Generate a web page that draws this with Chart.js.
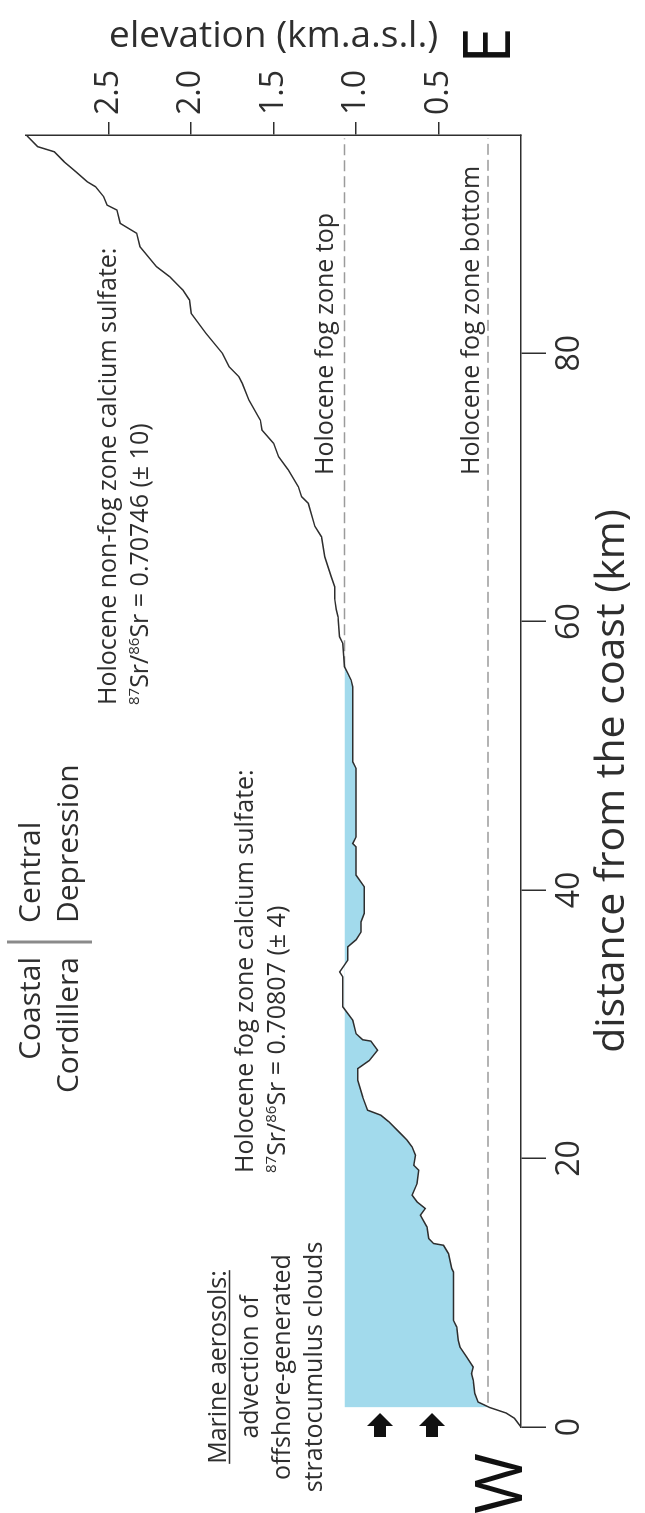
<!DOCTYPE html>
<html>
<head>
<meta charset="utf-8">
<title>Coastal elevation profile</title>
<script src="https://cdn.jsdelivr.net/npm/chart.js@4.4.1/dist/chart.umd.min.js"></script>
<style>
  html, body { margin: 0; padding: 0; background: #fff; overflow: hidden; }
  #page { position: relative; width: 645px; height: 1513px; overflow: hidden; }
  /* chart is laid out west->east left to right, then turned a quarter to the left */
  #turn { position: absolute; left: 0; top: 0; width: 1513px; height: 645px;
          transform-origin: 0 0; transform: translate(0, 1513px) rotate(-90deg); }
</style>
</head>
<body>
<div id="page"><div id="turn"><canvas id="profileChart" width="1513" height="645"></canvas></div></div>
<script>
// Profile: distance from the coast (km) and elevation (km a.s.l.)
const distanceKm = [0, 0.65, 1.04, 1.45, 1.86, 2.51, 3.48, 3.98, 4.47, 5.22,
  5.96, 6.46, 7.45, 7.95, 11.55, 11.8, 12.92, 13.54, 13.67, 14.04,
  14.9, 15.78, 16.28, 16.77, 17.27, 18.14, 19.13, 19.5, 20.25, 20.86,
  21.36, 21.86, 22.73, 23.23, 23.6, 24.59, 25.83, 26.7, 27.3, 28.07,
  28.75, 28.85, 29.3, 30.3, 31.3, 33.53, 33.9, 34.78, 35.77, 36.3,
  36.88, 37.63, 38.26, 40.24, 41.11, 43.22, 43.47, 43.96, 49.06, 49.55,
  55.14, 55.64, 56.14, 56.63, 58.37, 58.87, 60.36, 60.9, 61.73, 62.59,
  63.34, 64.08, 64.83, 66.32, 67.1, 68.81, 69.3, 70.04, 71.29, 72.28,
  73.28, 74.27, 75.0, 76.51, 77.75, 78.24, 78.99, 79.98, 81.47, 82.96,
  83.96, 84.7, 84.95, 85.69, 86.44, 87.93, 88.93, 89.67, 90.66, 91.03,
  91.65, 92.4, 92.77, 93.52, 94.26, 95.0, 95.38, 96.25]
const elevationKm = [0, 0.04, 0.09, 0.19, 0.26, 0.28, 0.29, 0.30, 0.29, 0.33,
  0.37, 0.38, 0.39, 0.41, 0.41, 0.42, 0.44, 0.47, 0.53, 0.56,
  0.57, 0.61, 0.58, 0.63, 0.66, 0.63, 0.62, 0.65, 0.64, 0.66,
  0.69, 0.73, 0.80, 0.85, 0.93, 0.96, 0.99, 0.99, 0.92, 0.87,
  0.91, 0.96, 1.00, 1.02, 1.08, 1.08, 1.10, 1.05, 1.05, 1.00,
  0.97, 0.97, 0.95, 0.95, 1.00, 1.00, 1.02, 1.00, 1.00, 1.02,
  1.02, 1.03, 1.05, 1.07, 1.08, 1.10, 1.11, 1.12, 1.13, 1.13,
  1.15, 1.17, 1.19, 1.21, 1.25, 1.29, 1.33, 1.35, 1.41, 1.47,
  1.50, 1.57, 1.58, 1.65, 1.69, 1.71, 1.77, 1.81, 1.91, 2.00,
  2.01, 2.05, 2.07, 2.13, 2.21, 2.31, 2.33, 2.43, 2.45, 2.51,
  2.53, 2.58, 2.63, 2.70, 2.77, 2.83, 2.93, 3.00]

// Holocene fog zone limits (km a.s.l.) and the stretches they are drawn over (km)
const fogZoneTopKm = 1.07
const fogZoneBottomKm = 0.2
const fogFillKm = [1.45, 57]
const fogTopLineKm = [56.6, 96]
const fogBottomLineKm = [1.8, 96]

// axes
const distanceTicks = [0, 20, 40, 60, 80]
const elevationTicks = [0.5, 1.0, 1.5, 2.0, 2.5]
const distanceMaxKm = 96.25
const elevationMaxKm = 3.0

const ink = '#2e2e2e'
const fogBlue = '#a2daec'
const dashGrey = '#9b9b9b'
const family = "'Open Sans', 'DejaVu Sans', sans-serif"

const profilePoints = distanceKm.map((d, i) => ({ x: d, y: elevationKm[i] }))
const fogPoints = profilePoints.filter(p => p.x >= fogFillKm[0] && p.x <= fogFillKm[1])
const levelLine = (range, level) => range.map(d => ({ x: d, y: level }))

// write a line where parts starting with ^ are superscripts
function writeRich(c, parts, x, y, size) {
  let cx = x
  parts.forEach(p => {
    const sup = p.startsWith('^')
    const t = sup ? p.slice(1) : p
    c.font = (sup ? Math.round(size * 0.6) : size) + 'px ' + family
    c.fillText(t, cx, sup ? y - size * 0.38 : y)
    cx += c.measureText(t).width
  })
}

const notes = {
  id: 'notes',
  afterDraw(chart) {
    const c = chart.ctx
    c.save()
    c.fillStyle = ink
    c.textBaseline = 'alphabetic'
    c.textAlign = 'left'

    // regions
    c.font = '30px ' + family
    c.textAlign = 'right'
    c.fillText('Coastal', 556, 40)
    c.fillText('Cordillera', 556, 78)
    c.textAlign = 'left'
    c.fillText('Central', 590, 40)
    c.fillText('Depression', 590, 78)
    c.strokeStyle = '#8a8a8a'
    c.lineWidth = 3
    c.beginPath()
    c.moveTo(571, 7)
    c.lineTo(571, 92)
    c.stroke()

    // isotope notes
    writeRich(c, ['Holocene non-fog zone calcium sulfate:'], 808, 116, 25)
    writeRich(c, ['^87', 'Sr/', '^86', 'Sr = 0.70746 (\u00b1 10)'], 808, 148, 25)
    writeRich(c, ['Holocene fog zone calcium sulfate:'], 340, 253, 25)
    writeRich(c, ['^87', 'Sr/', '^86', 'Sr = 0.70807 (\u00b1 4)'], 340, 285, 25)
    writeRich(c, ['Holocene fog zone top'], 1038, 333, 25)
    writeRich(c, ['Holocene fog zone bottom'], 1038, 479, 25)

    // marine aerosols block
    c.font = '25px ' + family
    c.textAlign = 'center'
    const mx = 146
    c.fillText('Marine aerosols:', mx, 226)
    c.fillText('advection of', mx, 258)
    c.fillText('offshore-generated', mx, 290)
    c.fillText('stratocumulus clouds', mx, 322)
    const uw = c.measureText('Marine aerosols:').width
    c.strokeStyle = ink
    c.lineWidth = 1.3
    c.beginPath()
    c.moveTo(mx - uw / 2, 229.5)
    c.lineTo(mx + uw / 2, 229.5)
    c.stroke()

    // arrows pointing inland
    c.fillStyle = '#111'
    ;[380, 432].forEach(cy => {
      c.beginPath()
      c.moveTo(76, cy - 6)
      c.lineTo(87, cy - 6)
      c.lineTo(87, cy - 13)
      c.lineTo(100, cy)
      c.lineTo(87, cy + 13)
      c.lineTo(87, cy + 6)
      c.lineTo(76, cy + 6)
      c.closePath()
      c.fill()
    })

    // compass letters
    c.textAlign = 'left'
    c.font = '66px ' + family
    c.fillText('W', -1, 522)
    c.fillText('E', 1449, 510)
    c.restore()
  }
}

const ctx = document.getElementById('profileChart').getContext('2d')
new Chart(ctx, {
  type: 'line',
  data: {
    datasets: [
      {
        label: 'elevation profile',
        data: profilePoints,
        borderColor: ink,
        borderWidth: 1.5,
        pointRadius: 0,
        tension: 0,
        fill: false,
        order: 0,
      },
      {
        label: 'fog zone',
        data: fogPoints,
        borderWidth: 0,
        borderColor: 'rgba(0,0,0,0)',
        backgroundColor: fogBlue,
        pointRadius: 0,
        fill: { target: { value: fogZoneTopKm }, above: 'rgba(0,0,0,0)', below: fogBlue },
        order: 3,
      },
      {
        label: 'fog zone top',
        data: levelLine(fogTopLineKm, fogZoneTopKm),
        borderColor: dashGrey,
        borderDash: [11, 5],
        borderWidth: 1.5,
        pointRadius: 0,
        fill: false,
        order: 2,
      },
      {
        label: 'fog zone bottom',
        data: levelLine(fogBottomLineKm, fogZoneBottomKm),
        borderColor: dashGrey,
        borderDash: [11, 5],
        borderWidth: 1.5,
        pointRadius: 0,
        fill: false,
        order: 2,
      },
    ],
  },
  options: {
    responsive: false,
    animation: false,
    events: [],
    layout: { padding: { left: 86, top: 21, right: 0, bottom: 0 } },
    plugins: { legend: { display: false }, tooltip: { enabled: false } },
    scales: {
      x: {
        type: 'linear',
        position: 'bottom',
        min: 0,
        max: distanceMaxKm,
        afterBuildTicks: (s) => { s.ticks = distanceTicks.map(v => ({ value: v })) },
        afterFit: (s) => { s.height = 124 },
        grid: { display: true, drawOnChartArea: false, drawTicks: true, tickLength: 25, tickColor: ink, tickWidth: 1.5, lineWidth: 1.5 },
        border: { display: true, color: ink, width: 1.5 },
        ticks: { color: ink, font: { family, size: 32 }, padding: 5, maxRotation: 0, autoSkip: false, callback: (v) => String(v) },
        title: { display: true, text: 'distance from the coast (km)', color: ink, font: { family, size: 41 }, padding: { top: 0, bottom: 8 } },
      },
      y: {
        type: 'linear',
        position: 'right',
        min: 0,
        max: elevationMaxKm,
        afterBuildTicks: (s) => { s.ticks = elevationTicks.map(v => ({ value: v })) },
        afterFit: (s) => { s.width = 135 },
        grid: { display: true, drawOnChartArea: false, drawTicks: true, tickLength: 13, tickColor: ink, tickWidth: 1.5, lineWidth: 1.5 },
        border: { display: true, color: ink, width: 1.5 },
        ticks: { color: ink, font: { family, size: 32 }, padding: 7, autoSkip: false, callback: (v) => v.toFixed(1) },
        title: { display: true, text: 'elevation (km.a.s.l.)', color: ink, font: { family, size: 37 }, padding: { top: 14, bottom: 0 } },
      },
    },
  },
  plugins: [notes],
})
</script>
</body>
</html>
